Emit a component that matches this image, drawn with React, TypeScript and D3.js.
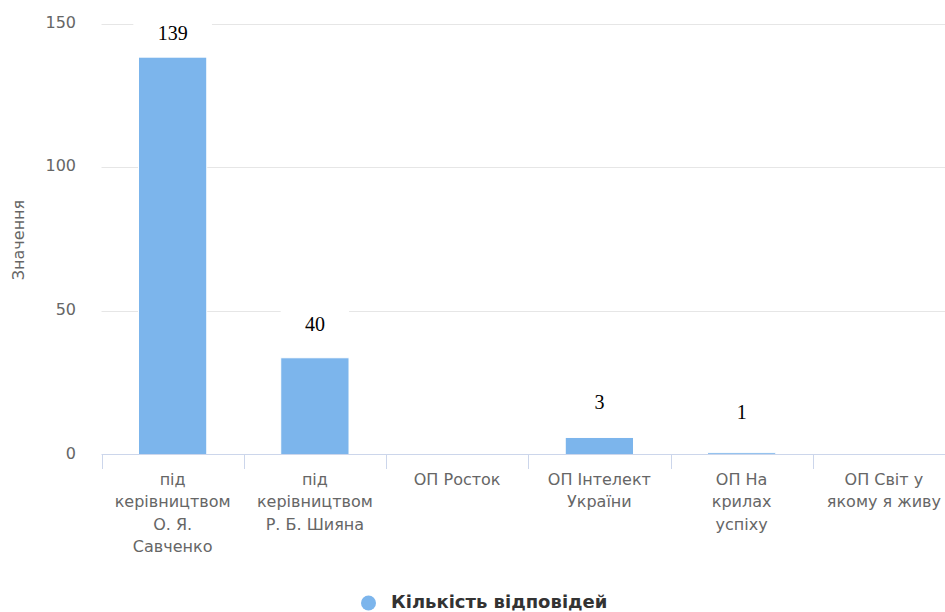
import React from "react";
import * as d3 from "d3";

const categories = [
  "під\nкерівництвом\nО. Я.\nСавченко",
  "під\nкерівництвом\nР. Б. Шияна",
  "ОП Росток",
  "ОП Інтелект\nУкраїни",
  "ОП На\nкрилах\nуспіху",
  "ОП Світ у\nякому я живу",
];
const barValues = [138.3, 33.8, 0, 6.1, 0.8, 0];
const dataLabels = ["139", "40", "", "3", "1", ""];
const labelLevels = [146.8, 45.6, 0, 18.4, 15.1, 0];
const yTicks = [0, 50, 100, 150];
const seriesName = "Кількість відповідей";
const yTitle = "Значення";

const W = 945;
const H = 612;
const COLOR = "#7cb5ec";
const FONT = "'DejaVu Sans', Verdana, sans-serif";

export default function App() {
  const x = d3.scaleBand<number>().domain(d3.range(categories.length)).range([101.5, 955]).padding(0);
  const y = d3.scaleLinear().domain([0, 150]).range([455, 23.5]);
  const bw = x.bandwidth() * 0.48;
  const charW = (s: string) => s.length * 10.2;

  return (
    <svg width={W} height={H} style={{ position: "absolute", left: 0, top: 0, background: "#fff" }}>
      <rect x={0} y={0} width={W} height={H} fill="#fff" />
      {yTicks.filter((t) => t > 0).map((t) => (
        <line key={t} x1={101.5} x2={W} y1={Math.round(y(t)) + 0.5} y2={Math.round(y(t)) + 0.5} stroke="#e6e6e6" strokeWidth={1} />
      ))}
      {yTicks.map((t) => (
        <text key={t} x={76} y={y(t) + 4} textAnchor="end" fontFamily={FONT} fontSize={16} fill="#666">{t}</text>
      ))}
      <text transform={`translate(24,240) rotate(-90)`} textAnchor="middle" fontFamily={FONT} fontSize={16} fill="#666">{yTitle}</text>
      {barValues.map((v, i) => (
        <rect key={i} x={x(i)! + (x.bandwidth() - bw) / 2} y={y(v)} width={bw} height={Math.max(0, y(0) - y(v))} fill={COLOR} stroke="#fff" strokeWidth={1} />
      ))}
      <line x1={101.5} x2={W} y1={454.5} y2={454.5} stroke="#ccd6eb" strokeWidth={1} />
      {d3.range(categories.length + 1).map((i) => {
        const xx = Math.round(101.5 + i * x.bandwidth()) + 0.5;
        return <line key={i} x1={xx} x2={xx} y1={454.5} y2={469} stroke="#ccd6eb" strokeWidth={1} />;
      })}
      {categories.map((c, i) => (
        <text key={i} textAnchor="middle" fontFamily={FONT} fontSize={16} fill="#666">
          {c.split("\n").map((ln, j) => (
            <tspan key={j} x={x(i)! + x.bandwidth() / 2} y={485 + j * 22.3}>{ln}</tspan>
          ))}
        </text>
      ))}
      {dataLabels.map((l, i) =>
        l ? (
          <g key={i}>
            <rect x={x(i)! + x.bandwidth() / 2 - charW(l) / 2 - 24} y={y(labelLevels[i]) - 14} width={charW(l) + 48} height={28} fill="#fff" />
            <text x={x(i)! + x.bandwidth() / 2} y={y(labelLevels[i]) + 7} textAnchor="middle" fontFamily="'Liberation Serif', 'Times New Roman', serif" fontSize={20} fill="#000">{l}</text>
          </g>
        ) : null
      )}
      <circle cx={368.5} cy={603} r={7.5} fill={COLOR} />
      <text x={391} y={607.5} fontFamily={FONT} fontSize={18} fontWeight="bold" fill="#333">{seriesName}</text>
    </svg>
  );
}
